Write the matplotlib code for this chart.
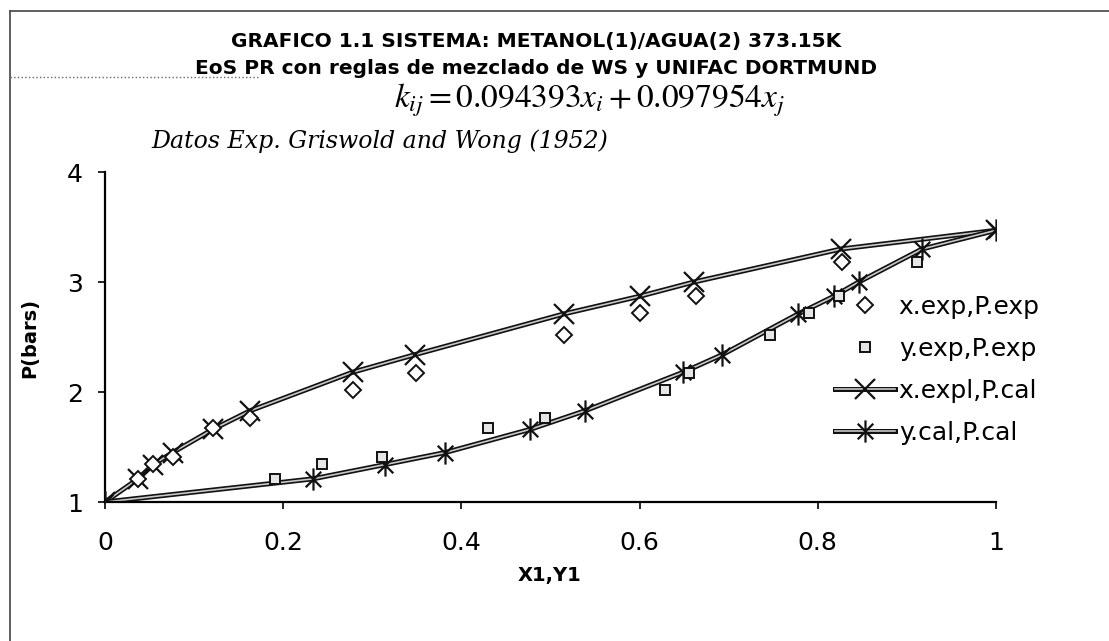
import matplotlib
matplotlib.use("Agg")
import matplotlib.pyplot as plt
import matplotlib.patheffects as pe
from matplotlib.lines import Line2D
from matplotlib.path import Path
from matplotlib.legend_handler import HandlerTuple

# calculated curve (PR + WS + UNIFAC Dortmund)
x_cal = [0.0, 0.037, 0.054, 0.076, 0.121, 0.163, 0.278, 0.348, 0.515, 0.600, 0.661, 0.826, 1.0]
y_cal = [0.0, 0.233, 0.314, 0.382, 0.477, 0.539, 0.649, 0.693, 0.778, 0.818, 0.846, 0.917, 1.0]
P_cal = [1.00, 1.21, 1.34, 1.45, 1.66, 1.83, 2.18, 2.34, 2.71, 2.87, 3.00, 3.30, 3.47]

# experimental data, Griswold and Wong (1952)
x_exp = [0.037, 0.054, 0.076, 0.121, 0.163, 0.278, 0.349, 0.515, 0.600, 0.663, 0.827]
y_exp = [0.191, 0.243, 0.311, 0.430, 0.494, 0.628, 0.655, 0.746, 0.790, 0.824, 0.911]
P_exp = [1.21, 1.35, 1.41, 1.67, 1.76, 2.02, 2.17, 2.52, 2.72, 2.87, 3.18]

x_ticks = [0, 0.2, 0.4, 0.6, 0.8, 1]
x_tick_labels = ["0", "0.2", "0.4", "0.6", "0.8", "1"]
y_ticks = [1, 2, 3, 4]

W, H = 1109, 641


def fx(px):
    return px / W


def fy(py):
    return 1 - py / H


# excel "star" marker: vertical line plus an X
star = Path(
    [(0, -1), (0, 1), (-0.7, -0.7), (0.7, 0.7), (-0.7, 0.7), (0.7, -0.7)],
    [Path.MOVETO, Path.LINETO, Path.MOVETO, Path.LINETO, Path.MOVETO, Path.LINETO],
)

line_fx = [pe.Stroke(linewidth=3.6, foreground="#111111"), pe.Normal()]
line_kw = dict(color="#c8c8c8", lw=1.2, path_effects=line_fx)
xmark_kw = dict(ls="none", marker="x", ms=15, mew=1.6, color="#111111")
star_kw = dict(ls="none", marker=star, ms=16, mew=1.6, color="#111111")
diam_kw = dict(ls="none", marker="D", ms=8, mfc="white", mec="#111111", mew=1.4)
sq_kw = dict(ls="none", marker="s", ms=7, mfc="#e6e6e6", mec="#111111", mew=1.4)

fig = plt.figure(figsize=(W / 100, H / 100), dpi=100)
ax = fig.add_axes([fx(105), fy(502), fx(996) - fx(105), fy(172) - fy(502)])

ax.plot(x_cal, P_cal, zorder=2, **line_kw)
ax.plot(y_cal, P_cal, zorder=2, **line_kw)
ax.plot(x_cal, P_cal, zorder=3, **xmark_kw)
ax.plot(y_cal, P_cal, zorder=3, **star_kw)
ax.plot(x_exp, P_exp, zorder=4, **diam_kw)
ax.plot(y_exp, P_exp, zorder=4, **sq_kw)

ax.set_xlim(0, 1)
ax.set_ylim(1, 4)
ax.set_xticks(x_ticks)
ax.set_xticklabels(x_tick_labels)
ax.set_yticks(y_ticks)
for side in ["top", "right"]:
    ax.spines[side].set_visible(False)
for side in ["left", "bottom"]:
    ax.spines[side].set_linewidth(1.6)
ax.tick_params(axis="both", direction="out", length=5, width=1.2, labelsize=18)
ax.tick_params(axis="x", pad=16)
ax.tick_params(axis="y", pad=11)

# legend: line and marker overlaid so the marker keeps a thin stroke
handles = [
    Line2D([], [], **diam_kw),
    Line2D([], [], **sq_kw),
    (Line2D([], [], **line_kw), Line2D([], [], **xmark_kw)),
    (Line2D([], [], **line_kw), Line2D([], [], **star_kw)),
]
labels = ["x.exp,P.exp", "y.exp,P.exp", "x.expl,P.cal", "y.cal,P.cal"]
fig.legend(handles, labels, loc="upper left", bbox_to_anchor=(fx(835), fy(295)),
           frameon=False, fontsize=18, handlelength=2.4, handletextpad=0.15,
           labelspacing=0.72, borderpad=0, borderaxespad=0,
           handler_map={tuple: HandlerTuple(ndivide=1, pad=0)})

# titles and annotations
fig.text(fx(536), fy(42), "GRAFICO 1.1 SISTEMA: METANOL(1)/AGUA(2) 373.15K",
         ha="center", va="center", fontsize=14.5, fontweight="bold")
fig.text(fx(536), fy(68), "EoS PR con reglas de mezclado de WS y UNIFAC DORTMUND",
         ha="center", va="center", fontsize=14.5, fontweight="bold")
fig.text(fx(589), fy(100), r"$k_{ij} = 0.094393x_i + 0.097954x_j$",
         ha="center", va="center", fontsize=24, math_fontfamily="stix")
fig.text(fx(380), fy(141), "Datos Exp. Griswold and Wong (1952)",
         ha="center", va="center", fontsize=17, family="DejaVu Serif", style="italic")
fig.text(fx(550), fy(575), "X1,Y1", ha="center", va="center", fontsize=14, fontweight="bold")
fig.text(fx(30), fy(338), "P(bars)", ha="center", va="center", rotation=90,
         fontsize=14, fontweight="bold")

# chart border (left and top) and the dotted fragment
fig.add_artist(Line2D([fx(10), fx(10)], [0, fy(11)], color="#444444", lw=1.2))
fig.add_artist(Line2D([fx(10), 1], [fy(11), fy(11)], color="#444444", lw=1.2))
fig.add_artist(Line2D([fx(10), fx(258)], [fy(77), fy(77)], color="#666666", lw=1, ls=":"))

fig.savefig("out.png", dpi=100)
